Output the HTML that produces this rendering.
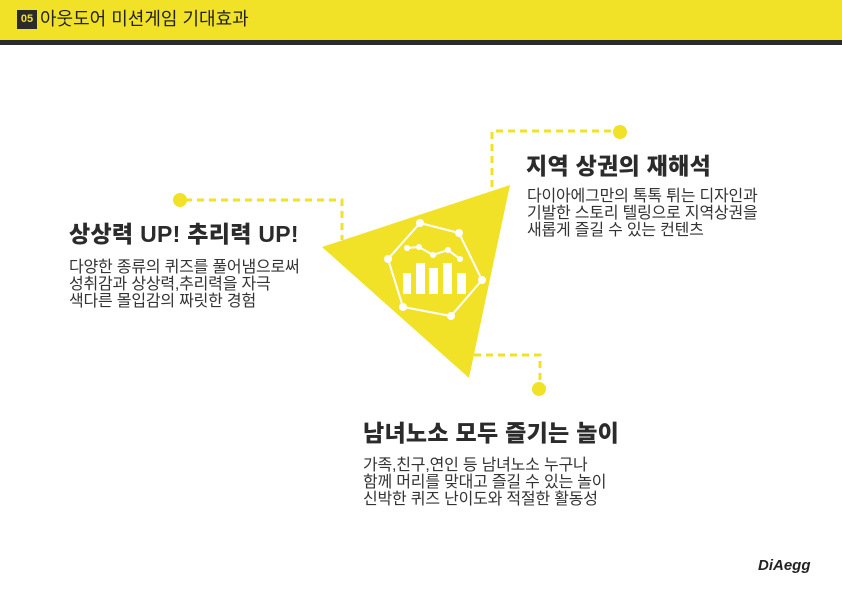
<!DOCTYPE html>
<html><head><meta charset="utf-8"><style>
body{margin:0;width:842px;height:595px;background:#fff;position:relative;overflow:hidden;font-family:"Liberation Sans","Noto Sans CJK KR",sans-serif;color:#2b2b2b}
.hdr{position:absolute;left:0;top:0;width:842px;height:40px;background:#f2e227}
.bar{position:absolute;left:0;top:40px;width:842px;height:5px;background:#2b2b2b}
.badge{position:absolute;left:17px;top:10px;width:20px;height:19px;background:#2b2b2b;color:#f2e227;font-size:11px;font-weight:bold;text-align:center;line-height:19px}
.title{position:absolute;left:40px;top:7px;font-size:18px;line-height:24px;color:#222;letter-spacing:0}
.h{position:absolute;font-size:23px;font-weight:900;color:#2b2b2b;white-space:nowrap;letter-spacing:0.3px;line-height:28px}
.p{position:absolute;font-size:16px;line-height:17px;color:#333;white-space:nowrap;letter-spacing:-0.2px}
.logo{position:absolute;left:758px;top:557px;font-size:15px;font-weight:900;font-style:italic;color:#222}
</style></head><body>
<div class="hdr"></div><div class="bar"></div>
<div class="badge">05</div>
<div class="title">아웃도어 미션게임 기대효과</div>
<svg width="842" height="595" style="position:absolute;left:0;top:0">
<g stroke="#f2e227" stroke-width="3" fill="none" stroke-dasharray="7,5">
<polyline points="492,187 492,131 615,131"/>
<polyline points="185,200 342,200 342,240"/>
<polyline points="474,355 540,355 540,384"/>
</g>
<g fill="#f2e227">
<circle cx="620" cy="132" r="7"/><circle cx="180" cy="200" r="7"/><circle cx="539" cy="389" r="7"/>
<polygon points="322,247 510,185 469,378"/>
</g>
<g stroke="#fff" stroke-width="2" fill="none">
<polygon points="420,223 459,233 482,280 451,316 403,307 388,259"/>
<polyline points="407,248 419,247 433,255 448,250 460,259"/>
</g>
<g fill="#fff">
<circle cx="420" cy="223" r="4"/><circle cx="459" cy="233" r="4"/><circle cx="482" cy="280" r="4"/><circle cx="451" cy="316" r="4"/><circle cx="403" cy="307" r="4"/><circle cx="388" cy="259" r="4"/>
<circle cx="407" cy="248" r="3"/><circle cx="419" cy="247" r="3"/><circle cx="433" cy="255" r="3"/><circle cx="448" cy="250" r="3"/><circle cx="460" cy="259" r="3"/>
<rect x="403" y="273" width="8" height="21"/><rect x="416" y="263" width="9" height="31"/><rect x="429" y="268" width="9" height="26"/><rect x="443" y="263" width="9" height="31"/><rect x="457" y="273" width="9" height="21"/>
</g>
</svg>
<div class="h" style="left:526px;top:152px">지역 상권의 재해석</div>
<div class="p" style="left:527px;top:188px">다이아에그만의 톡톡 튀는 디자인과<br>기발한 스토리 텔링으로 지역상권을<br>새롭게 즐길 수 있는 컨텐츠</div>
<div class="h" style="left:69px;top:220px">상상력 UP! 추리력 UP!</div>
<div class="p" style="left:69px;top:259px">다양한 종류의 퀴즈를 풀어냄으로써<br>성취감과 상상력,추리력을 자극<br>색다른 몰입감의 짜릿한 경험</div>
<div class="h" style="left:363px;top:419px">남녀노소 모두 즐기는 놀이</div>
<div class="p" style="left:363px;top:457px">가족,친구,연인 등 남녀노소 누구나<br>함께 머리를 맞대고 즐길 수 있는 놀이<br>신박한 퀴즈 난이도와 적절한 활동성</div>
<div class="logo">DiAegg</div>
</body></html>
